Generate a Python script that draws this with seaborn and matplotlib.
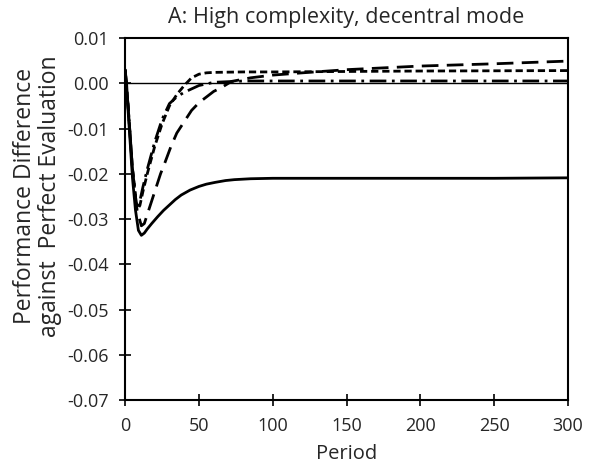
import matplotlib
matplotlib.use("Agg")
import matplotlib.pyplot as plt
import seaborn as sns
import pandas as pd

periods_solid = [0, 1, 2, 3, 5, 7, 9, 11, 13, 15, 18, 22, 26, 30, 34, 38, 44, 50, 55, 61, 68, 74, 85, 100, 150, 200, 250, 300]
solid = [0.003, 0.000, -0.006, -0.011, -0.021, -0.028, -0.0325, -0.0336, -0.0331, -0.0322, -0.0310, -0.0295, -0.0281, -0.0269, -0.0257, -0.0247, -0.0236, -0.0228, -0.0223, -0.0219, -0.0215, -0.0213, -0.0211, -0.0210, -0.0210, -0.0210, -0.0210, -0.0209]

periods_long = [0, 2, 5, 8, 11, 13, 16, 20, 24, 27, 31, 35, 40, 45, 50, 54, 60, 65, 72, 85, 100, 120, 150, 200, 250, 300]
long_dash = [0.003, -0.005, -0.019, -0.028, -0.0315, -0.031, -0.028, -0.024, -0.020, -0.0175, -0.014, -0.011, -0.0085, -0.006, -0.0043, -0.0033, -0.0018, -0.001, 0.0004, 0.0012, 0.0018, 0.0023, 0.003, 0.0038, 0.0043, 0.0049]

periods_short = [0, 2, 5, 8, 10, 12, 15, 20, 25, 30, 35, 40, 45, 50, 55, 60, 80, 100, 150, 200, 300]
short_dash = [0.003, -0.005, -0.019, -0.028, -0.027, -0.024, -0.020, -0.014, -0.009, -0.005, -0.0025, -0.0005, 0.0012, 0.002, 0.0023, 0.0024, 0.0025, 0.0025, 0.0026, 0.0027, 0.0028]

periods_dd = [0, 2, 5, 8, 10, 12, 15, 20, 25, 30, 35, 40, 50, 60, 80, 100, 150, 200, 300]
dash_dot = [0.003, -0.005, -0.019, -0.028, -0.026, -0.023, -0.019, -0.013, -0.008, -0.0045, -0.003, -0.002, -0.0005, 0.0002, 0.0005, 0.0005, 0.0005, 0.0005, 0.0005]

x_ticks = [0, 50, 100, 150, 200, 250, 300]
y_ticks = [0.01, 0.00, -0.01, -0.02, -0.03, -0.04, -0.05, -0.06, -0.07]

frames = []
for name, xs, ys in [("solid", periods_solid, solid), ("long", periods_long, long_dash),
                     ("short", periods_short, short_dash), ("dashdot", periods_dd, dash_dot)]:
    frames.append(pd.DataFrame({"Period": xs, "Value": ys, "Series": name}))
df = pd.concat(frames, ignore_index=True)

sns.set_style("white")
plt.rcParams['font.family'] = ['Open Sans', 'DejaVu Sans']

fig = plt.figure(figsize=(5.93, 4.69), dpi=100)
ax = fig.add_axes([0.211, 0.147, 0.747, 0.772])

dash_map = {"solid": "", "long": (6, 3), "short": (2.6, 1.4), "dashdot": (6, 2, 1, 2)}
sns.lineplot(data=df, x="Period", y="Value", hue="Series", style="Series",
             dashes=dash_map, palette={k: "black" for k in dash_map},
             linewidth=2.0, legend=False, ax=ax, estimator=None, sort=False)

ax.axhline(0, color="black", linewidth=1.0, zorder=0)
ax.set_xlim(0, 300)
ax.set_ylim(-0.07, 0.01)
ax.set_xticks(x_ticks)
ax.set_yticks(y_ticks)
ax.set_yticklabels([f"{v:.2f}" for v in y_ticks])
ax.tick_params(axis="both", direction="inout", length=8, width=1.2, color="black",
               labelsize=13, pad=8, bottom=True, left=True)
for s in ax.spines.values():
    s.set_color("black")
    s.set_linewidth(1.5)
ax.set_xlabel("Period", fontsize=14.5, labelpad=7)
ax.set_ylabel("Performance Difference\nagainst  Perfect Evaluation", fontsize=16.5, linespacing=1.05)
ax.yaxis.set_label_coords(-0.143, 0.564)
ax.set_title("A: High complexity, decentral mode", fontsize=15.5, pad=11)

fig.savefig("out.png", dpi=100)
